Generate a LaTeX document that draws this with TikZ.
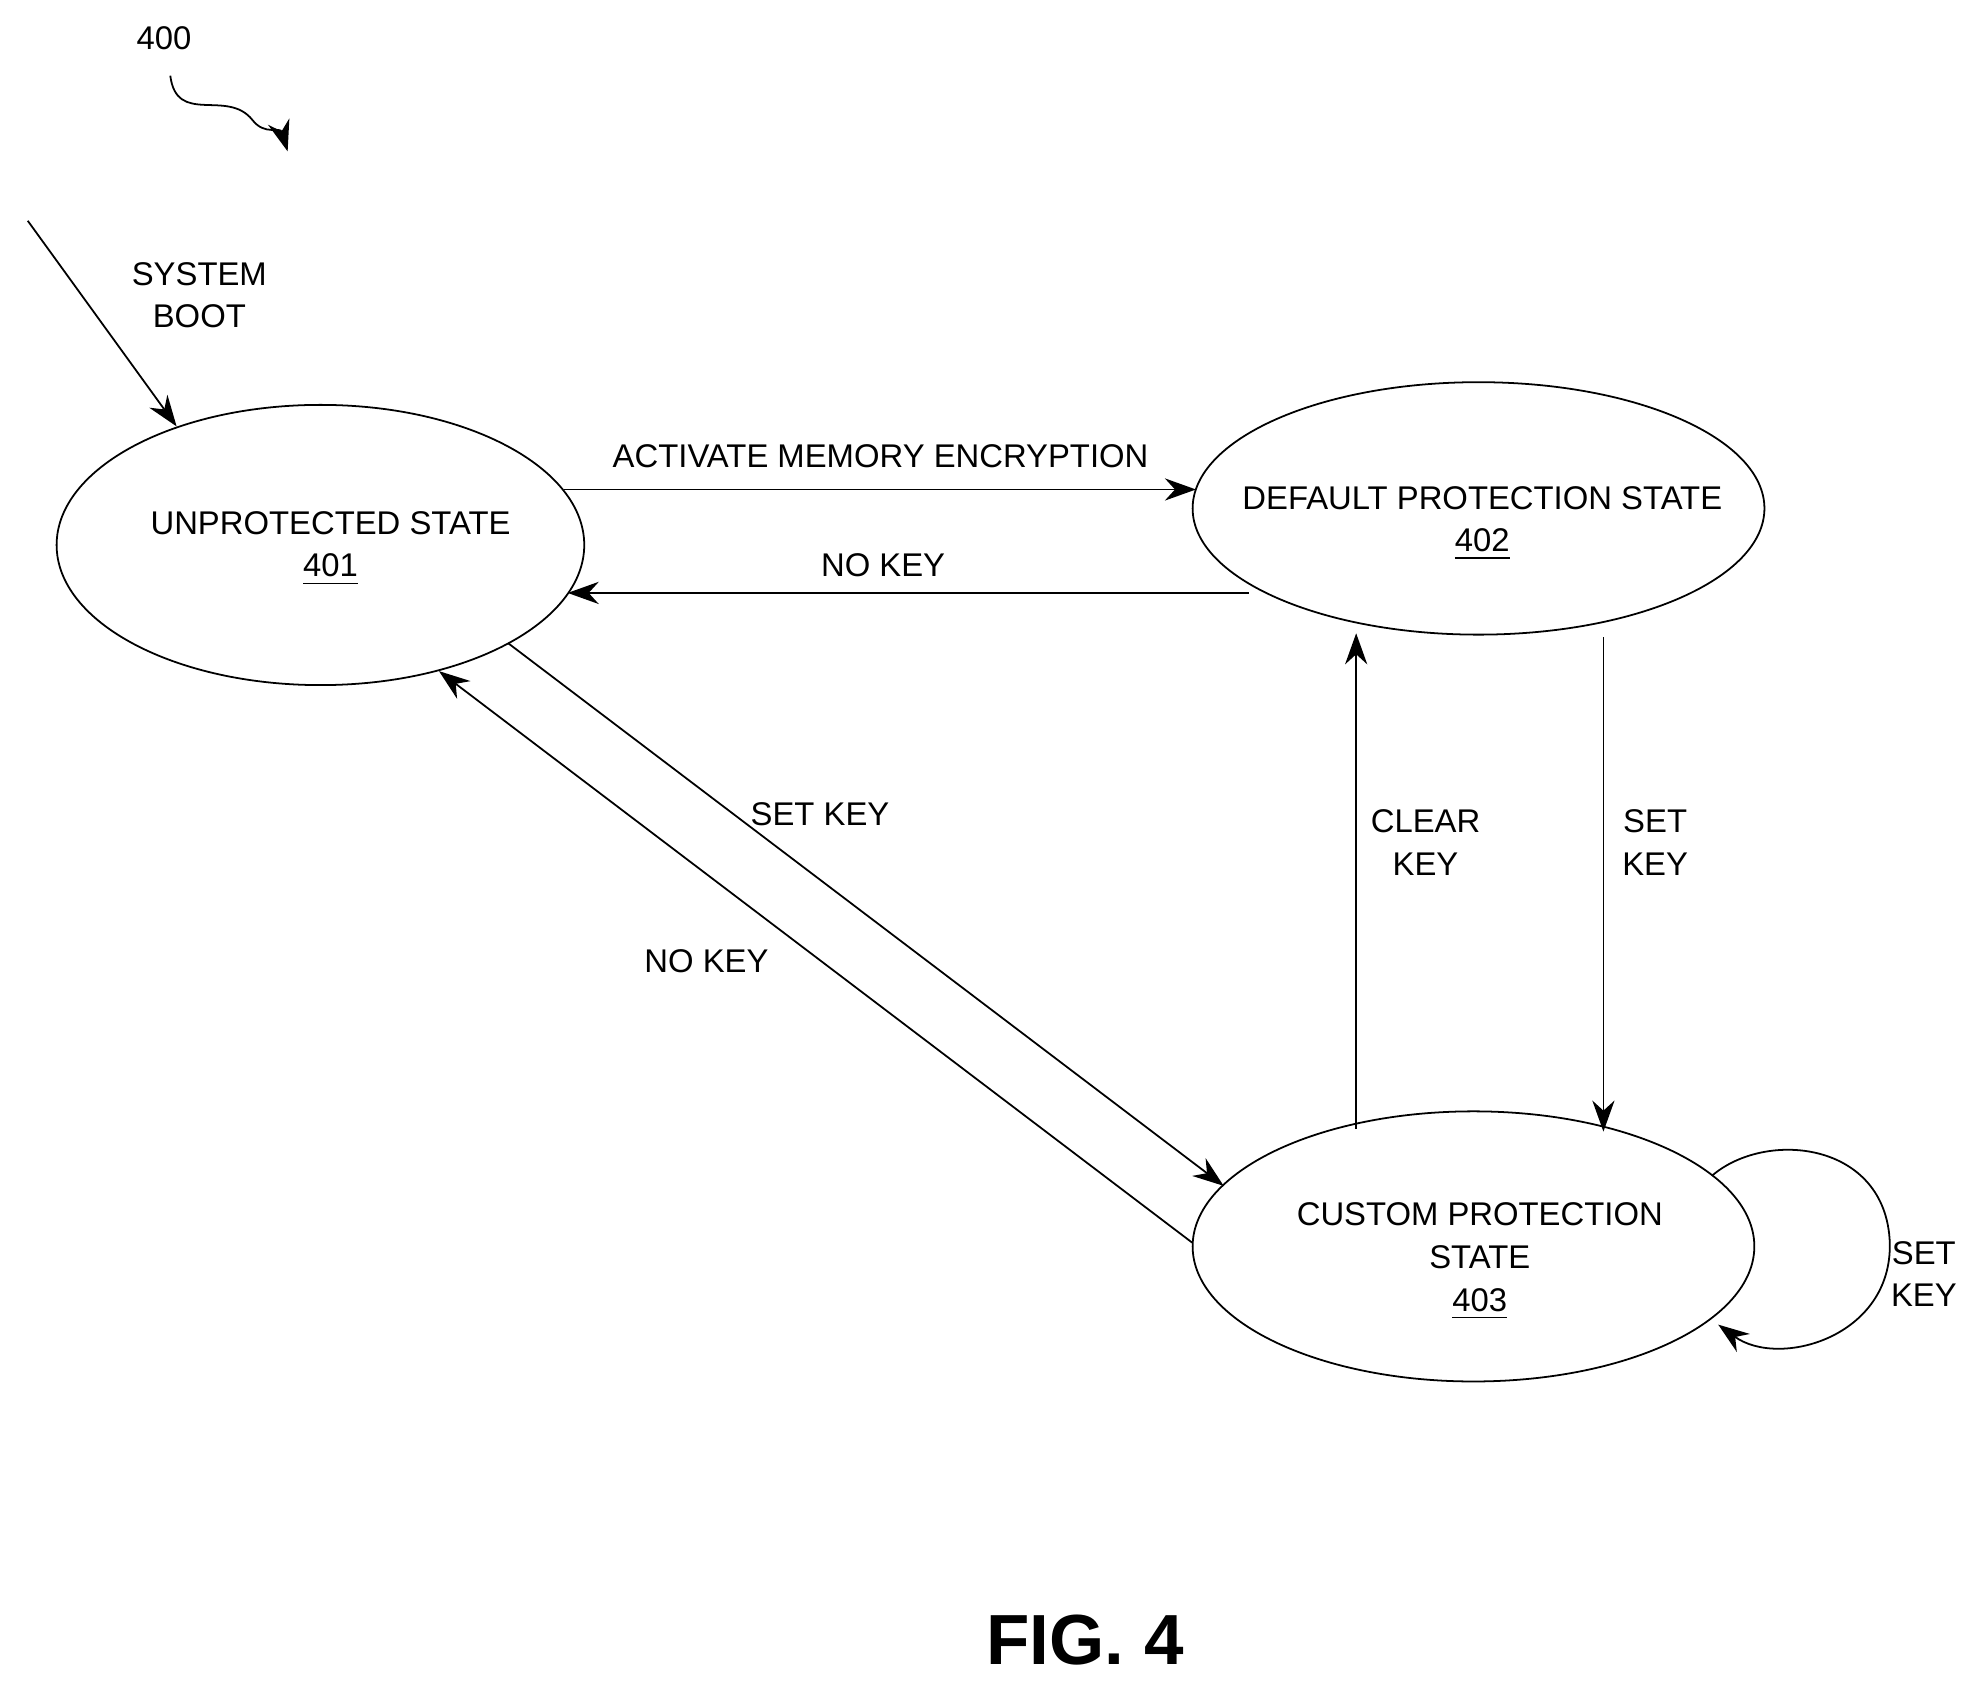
\documentclass[tikz,border=0pt]{standalone}
\usepackage{fontspec}
\setmainfont{Liberation Sans}
\usetikzlibrary{arrows.meta,shapes.geometric}
\begin{document}
\begin{tikzpicture}[x=0.01cm,y=-0.01cm,
  ar/.style={draw,thin,-{Stealth[length=7pt,width=5pt]}},
  lb/.style={font=\fontsize{7.4}{9.6}\selectfont,align=center}]
\useasboundingbox (0,0) rectangle (1560,1336);
\node[lb] (n400) at (130,30) {400};
\coordinate (s1) at (135,60);
\coordinate (s2) at (228,120);
\draw[ar] (s1) .. controls (140,100) and (180,70) .. (200,95) .. controls (210,108) and (222,100) .. (s2);
\node[draw,thin,ellipse,minimum width=4.18cm,minimum height=2.22cm,inner sep=0] (u) at (254,432) {};
\node[lb] at (262,435) {UNPROTECTED STATE\\\underline{401}};
\node[draw,thin,ellipse,minimum width=4.53cm,minimum height=2.0cm,inner sep=0] (d) at (1172,403) {};
\node[lb] at (1175,415) {DEFAULT PROTECTION STATE\\\underline{402}};
\node[draw,thin,ellipse,minimum width=4.45cm,minimum height=2.14cm,inner sep=0] (c) at (1168,988) {};
\node[lb] at (1173,1000) {CUSTOM PROTECTION\\STATE\\\underline{403}};
\coordinate (b0) at (22,175);
\draw[ar] (b0) -- (140,338);
\node[lb] (boot) at (158,234) {SYSTEM\\BOOT};
\draw[ar] (447,388) -- (948,388);
\node[lb] (l1) at (698,362) {ACTIVATE MEMORY ENCRYPTION};
\draw[ar] (990,470) -- (450,470);
\node[lb] (l2) at (700,448) {NO KEY};
\draw[ar] (403,510) -- (970,940);
\node[lb] (l3) at (650,645) {SET KEY};
\draw[ar] (945,985) -- (348,532);
\node[lb] (l4) at (560,762) {NO KEY};
\draw[ar] (1075,895) -- (1075,502);
\node[lb] (l5) at (1130,668) {CLEAR\\KEY};
\draw[ar] (1271,505) -- (1271,897);
\node[lb] (l6) at (1312,668) {SET\\KEY};
\draw[ar] (1357,932) .. controls (1400,895) and (1495,905) .. (1498,985) .. controls (1500,1060) and (1410,1085) .. (1362,1050);
\node[lb] (l7) at (1525,1010) {SET\\KEY};
\node[font=\bfseries\fontsize{16}{19}\selectfont] (fig) at (860,1300) {FIG. 4};
\end{tikzpicture}
\end{document}
